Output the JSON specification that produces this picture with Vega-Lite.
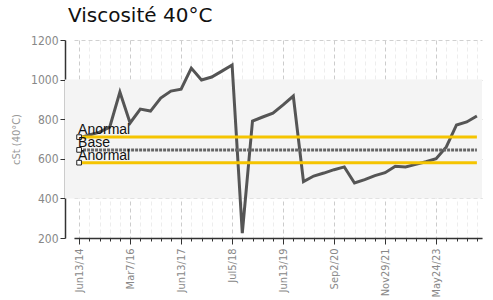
{
  "$schema": "https://vega.github.io/schema/vega-lite/v6.json",
  "width": 417,
  "height": 198,
  "autosize": "none",
  "padding": {"left": 65, "top": 40, "right": 11, "bottom": 62},
  "background": "white",
  "title": {"text": "Viscosité 40°C", "anchor": "start", "frame": "group", "font": "DejaVu Sans", "fontSize": 20, "fontWeight": "normal", "color": "#111", "offset": 8, "dx": 3},
  "config": {
    "view": {"stroke": null},
    "axisX": {
      "labelAngle": -90,
      "labelFont": "DejaVu Sans Condensed",
      "labelFontSize": 11,
      "labelColor": "#888888",
      "labelPadding": 4,
      "labelOverlap": false,
      "tickColor": "#333333",
      "domainColor": "#333333",
      "domainWidth": 1.5,
      "grid": true,
      "gridDash": [4, 3]
    }
  },
  "datasets": {
    "visc": [
      {"date": "Jun13/14", "cst": 705}, {"date": "Oct8/14", "cst": 720}, {"date": "Feb3/15", "cst": 735}, {"date": "Jun2/15", "cst": 760},
      {"date": "Oct20/15", "cst": 937}, {"date": "Mar7/16", "cst": 781}, {"date": "Jun15/16", "cst": 851}, {"date": "Sep20/16", "cst": 841},
      {"date": "Dec12/16", "cst": 907}, {"date": "Mar14/17", "cst": 942}, {"date": "Jun13/17", "cst": 952}, {"date": "Sep12/17", "cst": 1058},
      {"date": "Dec5/17", "cst": 998}, {"date": "Mar6/18", "cst": 1013}, {"date": "May8/18", "cst": 1043}, {"date": "Jul5/18", "cst": 1074},
      {"date": "Sep4/18", "cst": 225}, {"date": "Nov13/18", "cst": 791}, {"date": "Jan15/19", "cst": 811}, {"date": "Apr2/19", "cst": 831},
      {"date": "Jun13/19", "cst": 872}, {"date": "Sep10/19", "cst": 917}, {"date": "Dec3/19", "cst": 485}, {"date": "Mar10/20", "cst": 513},
      {"date": "Jun2/20", "cst": 528}, {"date": "Sep2/20", "cst": 545}, {"date": "Dec1/20", "cst": 559}, {"date": "Mar2/21", "cst": 478},
      {"date": "Jun1/21", "cst": 495}, {"date": "Aug31/21", "cst": 515}, {"date": "Nov29/21", "cst": 530}, {"date": "Mar1/22", "cst": 562},
      {"date": "Jun7/22", "cst": 559}, {"date": "Sep13/22", "cst": 572}, {"date": "Jan17/23", "cst": 585}, {"date": "May24/23", "cst": 600},
      {"date": "Sep12/23", "cst": 660}, {"date": "Jan16/24", "cst": 771}, {"date": "May7/24", "cst": 786}, {"date": "Sep10/24", "cst": 816}
    ],
    "limits": [
      {"label": "Anormal", "cst": 709.5},
      {"label": "Base", "cst": 645},
      {"label": "Anormal", "cst": 580.5}
    ],
    "band": [{"lo": 400, "hi": 1000}]
  },
  "encoding": {
    "y": {"type": "quantitative",
      "scale": {"domain": [200, 1200], "nice": false, "zero": false},
      "axis": {
        "title": "cSt (40°C)",
        "values": [200, 400, 600, 800, 1000, 1200],
        "format": "d",
        "labelOverlap": false,
        "titleFont": "DejaVu Sans Condensed",
        "titleFontSize": 11,
        "titleFontWeight": "normal",
        "titleColor": "#999999",
        "titlePadding": 9,
        "labelFont": "DejaVu Sans Condensed",
        "labelFontSize": 12,
        "labelColor": "#888888",
        "tickSize": 5,
        "tickColor": "#333333",
        "domainColor": "#333333",
        "domainWidth": 1.5,
        "grid": true,
        "gridDash": [4, 3],
        "gridColor": "#d0d0d0"
      }
    }
  },
  "layer": [
    {
      "data": {"name": "band"},
      "mark": {"type": "rect", "color": "#f4f4f4"},
      "encoding": {
        "y": {"field": "lo"},
        "y2": {"field": "hi"}
      }
    },
    {
      "data": {"name": "visc"},
      "mark": {"type": "line", "color": "#555555", "strokeWidth": 3, "strokeJoin": "miter"},
      "encoding": {
        "x": {
          "field": "date", "type": "ordinal",
          "scale": {"type": "point", "paddingOuter": 0, "range": [9, 417],
            "domain": ["Jun13/14","Oct8/14","Feb3/15","Jun2/15","Oct20/15","Mar7/16","Jun15/16","Sep20/16","Dec12/16","Mar14/17","Jun13/17","Sep12/17","Dec5/17","Mar6/18","May8/18","Jul5/18","Sep4/18","Nov13/18","Jan15/19","Apr2/19","Jun13/19","Sep10/19","Dec3/19","Mar10/20","Jun2/20","Sep2/20","Dec1/20","Mar2/21","Jun1/21","Aug31/21","Nov29/21","Mar1/22","Jun7/22","Sep13/22","Jan17/23","May24/23","Sep12/23","Jan16/24","May7/24","Sep10/24"]},
          "axis": {
            "title": null,
            "labelExpr": "indexof(['Jun13/14','Mar7/16','Jun13/17','Jul5/18','Jun13/19','Sep2/20','Nov29/21','May24/23'], datum.value) >= 0 ? datum.value : ''",
            "tickSize": {"condition": {"test": "indexof(['Jun13/14','Mar7/16','Jun13/17','Jul5/18','Jun13/19','Sep2/20','Nov29/21','May24/23'], datum.value) >= 0", "value": 6}, "value": 3},
            "gridColor": {"condition": {"test": "indexof(['Jun13/14','Mar7/16','Jun13/17','Jul5/18','Jun13/19','Sep2/20','Nov29/21','May24/23'], datum.value) >= 0", "value": "#cccccc"}, "value": "#ededed"}
          }
        },
        "y": {"field": "cst"}
      }
    },
    {
      "data": {"name": "limits"},
      "mark": {"type": "rule", "strokeWidth": 3},
      "encoding": {
        "x": {"datum": "Jun13/14", "type": "ordinal"},
        "x2": {"datum": "Sep10/24"},
        "y": {"field": "cst"},
        "color": {"field": "label", "type": "nominal", "legend": null, "scale": {"domain": ["Anormal", "Base"], "range": ["#f5c400", "#666666"]}},
        "strokeDash": {"field": "label", "type": "nominal", "legend": null, "scale": {"domain": ["Anormal", "Base"], "range": [[1, 0], [3, 1]]}}
      }
    },
    {
      "data": {"name": "limits"},
      "mark": {"type": "point", "shape": "square", "filled": false, "size": 22, "color": "#222222", "strokeWidth": 1, "fill": "white", "opacity": 1},
      "encoding": {
        "x": {"datum": "Jun13/14", "type": "ordinal"},
        "y": {"field": "cst"}
      }
    },
    {
      "data": {"name": "limits"},
      "mark": {"type": "text", "align": "left", "baseline": "alphabetic", "dx": -1, "dy": -3, "font": "Liberation Sans", "fontSize": 14, "color": "#111111"},
      "encoding": {
        "x": {"datum": "Jun13/14", "type": "ordinal"},
        "y": {"field": "cst"},
        "text": {"field": "label"}
      }
    }
  ]
}
